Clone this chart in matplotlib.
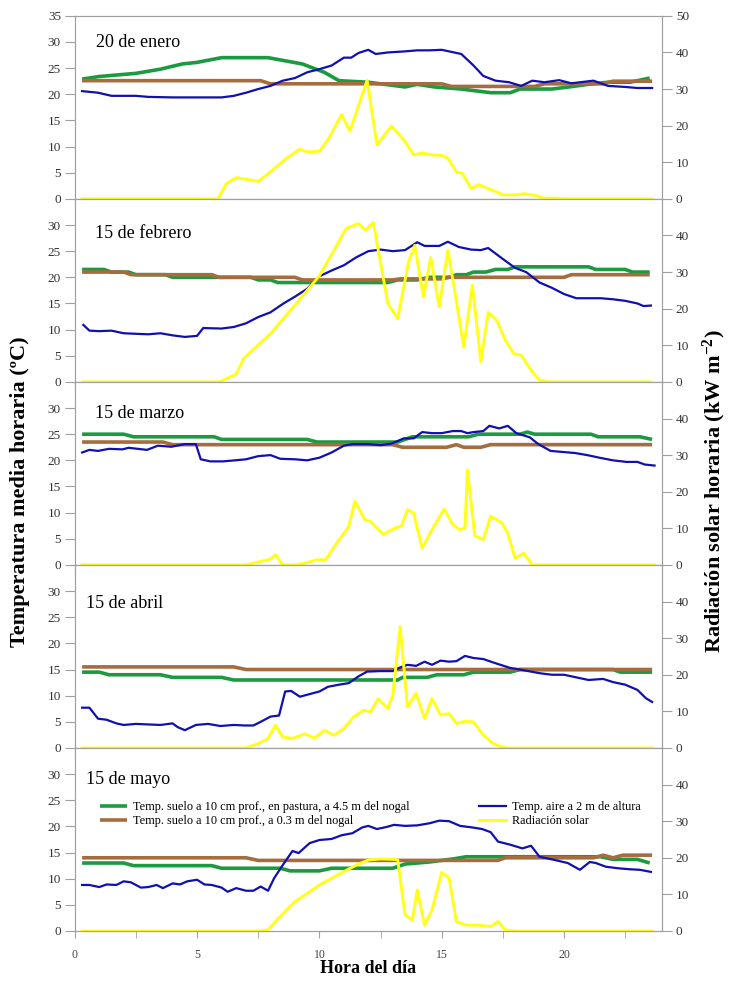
import numpy as np
import matplotlib.pyplot as plt

plt.rcParams['font.family'] = ['Liberation Serif', 'DejaVu Serif']
plt.rcParams['mathtext.default'] = 'regular'

# ---- 20 de enero ----
ene_verde_h = [0.3, 1.0, 2.5, 3.5, 4.4, 5.0, 6.0, 7.9, 9.3, 10.2, 10.8, 12.0, 13.5, 14.0, 14.7, 15.8, 17.0, 17.8, 18.2, 19.5, 20.2, 21.0, 21.8, 22.7, 23.5]
ene_verde = [22.9, 23.4, 24.0, 24.8, 25.8, 26.1, 27.0, 27.0, 25.8, 24.2, 22.6, 22.3, 21.4, 21.9, 21.4, 21.0, 20.3, 20.3, 21.0, 21.0, 21.4, 21.9, 22.3, 22.3, 23.1]
ene_cafe_h = [0.3, 7.6, 8.0, 15.0, 15.4, 18.8, 19.2, 21.6, 22.0, 23.6]
ene_cafe = [22.6, 22.6, 22.0, 22.0, 21.5, 21.5, 22.0, 22.0, 22.5, 22.5]
ene_azul_h = [0.3, 0.95, 1.5, 2.5, 3.0, 4.0, 5.0, 6.0, 6.5, 7.0, 7.5, 8.0, 8.5, 9.0, 9.5, 10.0, 10.5, 11.0, 11.3, 11.6, 12.0, 12.3, 12.8, 13.5, 14.0, 14.5, 15.0, 15.5, 15.8, 16.3, 16.7, 17.2, 17.75, 18.25, 18.7, 19.2, 19.8, 20.3, 21.2, 21.8, 22.5, 23.0, 23.6]
ene_azul = [20.6, 20.3, 19.7, 19.7, 19.5, 19.4, 19.4, 19.4, 19.7, 20.3, 21.0, 21.6, 22.6, 23.1, 24.2, 24.8, 25.5, 27.0, 27.0, 27.9, 28.5, 27.7, 28.0, 28.2, 28.4, 28.4, 28.5, 28.0, 27.7, 25.5, 23.5, 22.6, 22.3, 21.6, 22.6, 22.3, 22.7, 22.1, 22.6, 21.6, 21.4, 21.2, 21.2]
ene_rad_h = [0.3, 5.85, 6.2, 6.6, 7.5, 8.0, 8.7, 9.2, 9.5, 10.0, 10.4, 10.9, 11.25, 11.95, 12.35, 12.95, 13.5, 13.85, 14.2, 14.6, 15.0, 15.25, 15.6, 15.85, 16.2, 16.5, 17.1, 17.5, 18.0, 18.4, 18.85, 19.2, 19.7, 20.0, 23.6]
ene_rad = [0, 0, 4.2, 5.8, 4.8, 7.4, 11.3, 13.6, 12.8, 13.0, 16.7, 23.0, 18.5, 32.4, 14.8, 19.9, 15.7, 12.0, 12.5, 12.0, 11.9, 11.1, 7.4, 6.9, 2.8, 3.9, 2.3, 1.1, 1.1, 1.4, 0.9, 0.2, 0.2, 0, 0]

# ---- 15 de febrero ----
feb_verde_h = [0.3, 1.2, 1.5, 2.2, 2.5, 3.7, 4.0, 7.2, 7.5, 8.0, 8.3, 12.8, 13.2, 14.0, 14.5, 15.3, 15.6, 16.0, 16.3, 16.8, 17.2, 17.7, 18.0, 21.0, 21.3, 22.5, 22.8, 23.5]
feb_verde = [21.5, 21.5, 21.0, 21.0, 20.5, 20.5, 20.0, 20.0, 19.5, 19.5, 19.0, 19.0, 19.5, 19.5, 20.0, 20.0, 20.5, 20.5, 21.0, 21.0, 21.5, 21.5, 22.0, 22.0, 21.5, 21.5, 21.0, 21.0]
feb_cafe_h = [0.3, 2.0, 2.3, 5.6, 5.9, 9.0, 9.3, 13.0, 13.3, 15.0, 15.3, 20.0, 20.3, 23.5]
feb_cafe = [21.0, 21.0, 20.5, 20.5, 20.0, 20.0, 19.5, 19.5, 19.7, 19.7, 20.0, 20.0, 20.5, 20.5]
feb_azul_h = [0.35, 0.6, 1.0, 1.5, 2.0, 3.0, 3.5, 4.0, 4.5, 5.0, 5.25, 6.0, 6.5, 7.0, 7.5, 8.0, 8.5, 9.0, 9.5, 10.0, 10.5, 11.0, 11.5, 12.0, 12.5, 13.0, 13.5, 14.0, 14.3, 14.9, 15.25, 15.7, 16.2, 16.6, 16.9, 17.5, 18.0, 18.45, 19.0, 19.5, 20.0, 20.5, 21.0, 21.5, 22.0, 22.5, 23.0, 23.25, 23.55]
feb_azul = [10.9, 9.8, 9.7, 9.8, 9.3, 9.1, 9.3, 8.9, 8.6, 8.8, 10.3, 10.2, 10.5, 11.2, 12.4, 13.3, 14.9, 16.3, 17.8, 20.2, 21.3, 22.3, 23.8, 25.0, 25.3, 25.0, 25.2, 26.7, 26.0, 26.0, 26.8, 25.8, 25.3, 25.2, 25.6, 23.5, 21.8, 21.0, 19.0, 18.0, 16.8, 16.0, 16.0, 16.0, 15.8, 15.5, 15.0, 14.5, 14.6]
feb_rad_h = [0.35, 5.9, 6.6, 6.9, 8.0, 9.0, 10.0, 10.6, 11.1, 11.6, 11.9, 12.2, 12.8, 13.2, 13.65, 13.9, 14.25, 14.55, 14.9, 15.25, 15.6, 15.9, 16.25, 16.6, 16.9, 17.25, 17.6, 17.95, 18.25, 18.7, 19.0, 19.35, 23.55]
feb_rad = [0, 0, 2.1, 6.4, 13.2, 21.0, 29.0, 36.0, 42.0, 43.2, 41.4, 43.6, 21.4, 17.3, 33.0, 37.3, 23.2, 34.0, 20.5, 36.0, 22.0, 9.5, 26.4, 5.5, 19.0, 16.8, 11.4, 7.7, 7.3, 2.7, 0.5, 0, 0]

# ---- 15 de marzo ----
mar_verde_h = [0.3, 2.0, 2.4, 5.7, 6.0, 9.5, 9.9, 13.2, 13.5, 13.8, 16.1, 16.5, 18.2, 18.5, 18.8, 21.1, 21.4, 23.1, 23.6]
mar_verde = [25.0, 25.0, 24.5, 24.5, 24.0, 24.0, 23.5, 23.5, 24.0, 24.5, 24.5, 25.0, 25.0, 25.4, 25.0, 25.0, 24.5, 24.5, 24.0]
mar_cafe_h = [0.3, 3.6, 4.0, 13.0, 13.4, 15.2, 15.6, 15.9, 16.6, 17.0, 23.6]
mar_cafe = [23.5, 23.5, 23.0, 23.0, 22.5, 22.5, 23.0, 22.5, 22.5, 23.0, 23.0]
mar_azul_h = [0.3, 0.6, 0.95, 1.4, 1.95, 2.2, 2.95, 3.4, 3.95, 4.5, 4.95, 5.15, 5.55, 6.05, 6.55, 7.0, 7.5, 8.0, 8.4, 9.0, 9.5, 10.0, 10.5, 11.0, 11.35, 12.0, 12.5, 12.95, 13.45, 13.85, 14.2, 14.6, 15.0, 15.45, 15.8, 16.05, 16.3, 16.7, 16.95, 17.35, 17.7, 18.05, 18.6, 18.95, 19.45, 19.95, 20.45, 20.95, 21.45, 22.0, 22.55, 23.0, 23.3, 23.7]
mar_azul = [21.5, 22.0, 21.8, 22.2, 22.1, 22.4, 22.0, 22.8, 22.6, 23.1, 23.1, 20.2, 19.8, 19.8, 20.0, 20.2, 20.8, 21.0, 20.3, 20.2, 20.0, 20.5, 21.5, 22.8, 23.1, 23.1, 22.9, 23.2, 24.2, 24.2, 25.4, 25.2, 25.2, 25.6, 25.6, 25.2, 25.4, 25.6, 26.6, 26.1, 26.6, 25.2, 24.4, 23.1, 21.8, 21.6, 21.4, 21.0, 20.5, 20.0, 19.7, 19.7, 19.2, 19.0]
mar_rad_h = [0.3, 7.0, 8.0, 8.2, 8.5, 9.0, 9.4, 9.9, 10.25, 10.75, 11.2, 11.45, 11.85, 12.1, 12.6, 13.1, 13.35, 13.6, 13.85, 14.2, 14.6, 15.1, 15.45, 15.75, 15.95, 16.05, 16.35, 16.7, 17.0, 17.45, 17.7, 18.0, 18.35, 18.7, 23.7]
mar_rad = [0, 0, 1.6, 2.8, 0, 0, 0.5, 1.4, 1.4, 6.4, 10.5, 17.4, 12.4, 11.8, 8.3, 10.1, 10.6, 15.1, 14.2, 4.6, 9.6, 15.3, 11.0, 9.6, 10.1, 26.0, 8.0, 6.9, 13.3, 11.5, 8.7, 1.8, 3.2, 0, 0]

# ---- 15 de abril ----
abr_verde_h = [0.3, 1.0, 1.4, 3.5, 4.0, 6.0, 6.5, 13.2, 13.4, 14.4, 14.8, 15.9, 16.3, 17.8, 18.2, 22.0, 22.3, 23.6]
abr_verde = [14.5, 14.5, 14.0, 14.0, 13.5, 13.5, 13.0, 13.0, 13.5, 13.5, 14.0, 14.0, 14.5, 14.5, 15.0, 15.0, 14.5, 14.5]
abr_cafe_h = [0.3, 6.5, 7.0, 23.6]
abr_cafe = [15.5, 15.5, 15.0, 15.0]
abr_azul_h = [0.3, 0.6, 0.95, 1.3, 1.7, 2.0, 2.5, 3.0, 3.5, 4.0, 4.2, 4.5, 4.95, 5.45, 5.95, 6.5, 6.95, 7.3, 7.6, 8.0, 8.35, 8.6, 8.85, 9.2, 9.6, 10.0, 10.35, 10.8, 11.2, 11.6, 11.95, 12.5, 13.0, 13.3, 13.6, 13.95, 14.3, 14.6, 14.95, 15.3, 15.6, 15.95, 16.3, 16.7, 17.2, 17.8, 18.3, 19.0, 19.5, 20.0, 20.5, 21.0, 21.6, 22.0, 22.5, 23.0, 23.35, 23.6]
abr_azul = [7.7, 7.7, 5.6, 5.4, 4.7, 4.4, 4.6, 4.5, 4.4, 4.7, 4.0, 3.4, 4.4, 4.6, 4.2, 4.4, 4.3, 4.3, 5.0, 6.0, 6.2, 10.8, 10.9, 9.8, 10.3, 10.8, 11.7, 12.1, 12.4, 13.7, 14.6, 14.7, 14.7, 15.4, 15.9, 15.7, 16.5, 15.9, 16.7, 16.5, 16.6, 17.6, 17.2, 17.0, 16.2, 15.3, 14.9, 14.3, 14.0, 14.0, 13.5, 13.0, 13.2, 12.6, 12.1, 11.1, 9.5, 8.8]
abr_rad_h = [0.3, 7.0, 7.5, 7.9, 8.2, 8.5, 8.9, 9.4, 9.8, 10.2, 10.6, 11.0, 11.4, 11.8, 12.1, 12.4, 12.8, 13.0, 13.3, 13.6, 13.95, 14.3, 14.6, 14.95, 15.3, 15.6, 15.95, 16.3, 16.7, 17.1, 17.45, 17.7, 23.6]
abr_rad = [0, 0, 1.2, 2.6, 6.2, 3.0, 2.6, 3.9, 2.7, 4.8, 3.5, 5.3, 8.5, 10.3, 9.9, 13.5, 10.8, 14.4, 33.2, 11.2, 14.9, 8.0, 13.5, 9.0, 9.4, 6.7, 7.3, 7.1, 3.5, 1.2, 0.3, 0, 0]

# ---- 15 de mayo ----
may_verde_h = [0.3, 2.0, 2.4, 5.6, 6.0, 8.4, 8.8, 10.0, 10.5, 13.0, 13.5, 14.0, 14.5, 15.0, 15.5, 16.0, 21.5, 22.0, 23.0, 23.5]
may_verde = [13.0, 13.0, 12.5, 12.5, 12.0, 12.0, 11.5, 11.5, 12.0, 12.0, 12.8, 13.0, 13.2, 13.5, 13.8, 14.2, 14.2, 13.7, 13.7, 13.0]
may_cafe_h = [0.3, 7.0, 7.5, 17.3, 17.6, 21.2, 21.6, 22.0, 22.4, 23.6]
may_cafe = [14.0, 14.0, 13.5, 13.5, 14.0, 14.0, 14.5, 14.0, 14.5, 14.5]
may_azul_h = [0.3, 0.6, 1.0, 1.3, 1.7, 2.0, 2.3, 2.7, 3.0, 3.35, 3.6, 4.0, 4.3, 4.6, 5.0, 5.3, 5.6, 6.0, 6.25, 6.6, 7.0, 7.3, 7.6, 7.9, 8.15, 8.5, 8.9, 9.15, 9.6, 10.0, 10.5, 10.9, 11.35, 11.75, 12.0, 12.35, 12.75, 13.05, 13.5, 14.0, 14.5, 14.9, 15.3, 15.75, 16.25, 16.65, 17.0, 17.3, 17.8, 18.3, 18.65, 19.0, 19.6, 20.15, 20.65, 21.05, 21.3, 21.7, 22.2, 22.7, 23.1, 23.55]
may_azul = [8.8, 8.8, 8.4, 8.9, 8.8, 9.5, 9.3, 8.3, 8.4, 8.8, 8.2, 9.1, 8.9, 9.5, 9.8, 8.9, 8.8, 8.3, 7.5, 8.2, 7.7, 7.7, 8.5, 7.7, 10.1, 12.6, 15.3, 14.9, 16.8, 17.4, 17.6, 18.3, 18.7, 19.8, 20.1, 19.5, 19.9, 20.3, 20.1, 20.2, 20.6, 21.1, 21.0, 20.1, 19.8, 19.5, 18.9, 17.1, 16.5, 15.8, 16.3, 14.2, 13.6, 13.0, 11.7, 13.2, 13.0, 12.3, 12.0, 11.8, 11.7, 11.3]
may_rad_h = [0.3, 7.5, 7.9, 8.2, 9.0, 10.0, 11.0, 11.5, 12.0, 12.5, 13.0, 13.2, 13.5, 13.8, 14.0, 14.3, 14.6, 15.0, 15.3, 15.6, 16.0, 16.5, 17.0, 17.3, 17.6, 18.0, 23.6]
may_rad = [0, 0, 0.3, 2.6, 8.0, 12.6, 16.2, 18.0, 19.4, 19.7, 19.6, 19.5, 4.4, 3.0, 11.2, 1.6, 5.7, 16.0, 14.5, 2.6, 1.6, 1.6, 1.2, 2.6, 0.3, 0, 0]

fechas = ['20 de enero', '15 de febrero', '15 de marzo', '15 de abril', '15 de mayo']
verde = [(ene_verde_h, ene_verde), (feb_verde_h, feb_verde), (mar_verde_h, mar_verde), (abr_verde_h, abr_verde), (may_verde_h, may_verde)]
cafe = [(ene_cafe_h, ene_cafe), (feb_cafe_h, feb_cafe), (mar_cafe_h, mar_cafe), (abr_cafe_h, abr_cafe), (may_cafe_h, may_cafe)]
azul = [(ene_azul_h, ene_azul), (feb_azul_h, feb_azul), (mar_azul_h, mar_azul), (abr_azul_h, abr_azul), (may_azul_h, may_azul)]
rad = [(ene_rad_h, ene_rad), (feb_rad_h, feb_rad), (mar_rad_h, mar_rad), (abr_rad_h, abr_rad), (may_rad_h, may_rad)]

# posicion del titulo de cada panel (fraccion de ejes)
titulo_x = [0.036, 0.034, 0.034, 0.019, 0.019]
titulo_y = [0.857, 0.81, 0.825, 0.79, 0.83]

c_verde = '#1c9a40'
c_cafe = '#a56c40'
c_azul = '#1010b0'
c_rad = '#ffff1a'
gris = '#a0a0a0'

fig = plt.figure(figsize=(7.33, 9.83), dpi=100)

for i in range(5):
    ax = fig.add_axes([0.102, 0.0529 + (4 - i) * 0.1862, 0.801, 0.1862])
    ax2 = ax.twinx()
    l1, = ax.plot(*verde[i], color=c_verde, lw=2.6, solid_capstyle='butt')
    l2, = ax.plot(*cafe[i], color=c_cafe, lw=2.6, solid_capstyle='butt')
    l3, = ax.plot(*azul[i], color=c_azul, lw=1.6)
    l4, = ax2.plot(*rad[i], color=c_rad, lw=2.1)

    ax.set_xlim(0, 24)
    ax.set_ylim(0, 35)
    ax2.set_ylim(0, 50)
    if i == 0:
        ax.set_yticks(np.arange(0, 36, 5))
        ax2.set_yticks(np.arange(0, 51, 10))
    else:
        ax.set_yticks(np.arange(0, 31, 5))
        ax2.set_yticks(np.arange(0, 41, 10))
    ax.set_xticks(np.arange(0, 21, 5))
    ax.set_xticks(np.arange(2.5, 24, 5), minor=True)

    for a in (ax, ax2):
        for s in a.spines.values():
            s.set_color(gris)
            s.set_linewidth(0.8)
    ax.tick_params(axis='y', direction='out', length=7, color=gris, labelsize=9.5,
                   labelcolor='#333333', pad=3)
    ax2.tick_params(axis='y', direction='out', length=7, color=gris, labelsize=9.5,
                    labelcolor='#333333', pad=3)
    ax.tick_params(axis='x', which='both', direction='out', length=5, color=gris,
                   labelsize=8.5, labelcolor='#444444', pad=8)
    if i < 4:
        ax.tick_params(axis='x', labelbottom=False)

    ax.text(titulo_x[i], titulo_y[i], fechas[i], transform=ax.transAxes,
            fontsize=13, va='center')

    if i == 4:
        ax2.legend([l1, l2, l3, l4],
                   ['Temp. suelo a 10 cm prof., en pastura, a 4.5 m del nogal',
                    'Temp. suelo a 10 cm prof., a 0.3 m del nogal',
                    'Temp. aire a 2 m de altura',
                    'Radiación solar'],
                   ncol=2, loc='upper left', bbox_to_anchor=(0.035, 0.735),
                   frameon=False, fontsize=8.8, handlelength=2.2, handletextpad=0.5,
                   columnspacing=5.7, labelspacing=0.12, borderaxespad=0)

fig.text(0.027, 0.5, 'Temperatura media horaria (ºC)', rotation=90, fontsize=16,
         fontweight='bold', ha='center', va='center')
fig.text(0.975, 0.5, 'Radiación solar horaria (kW m$^{-2}$)', rotation=90, fontsize=16,
         fontweight='bold', ha='center', va='center')
fig.text(0.502, 0.015, 'Hora del día', fontsize=13, fontweight='bold', ha='center', va='center')

fig.savefig('out.png', dpi=100)
